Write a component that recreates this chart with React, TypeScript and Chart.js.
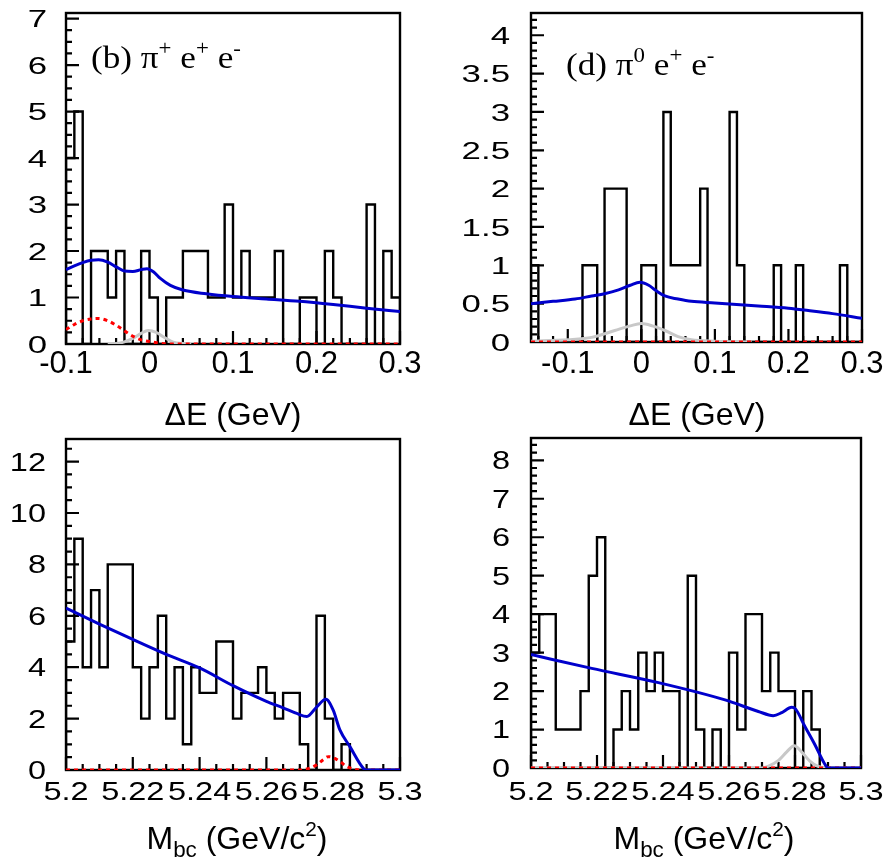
import React, { useEffect, useRef } from "react";
import { Chart, registerables } from "chart.js";

Chart.register(...registerables);

type Pt = [number, number];

// ===== Panel (b): ΔE, π+ e+ e- =====
const bBinLow = -0.1;
const bBinWidth = 0.01;
const bCounts = [4, 5, 0, 2, 2, 1, 2, 0, 0, 2, 1, 0, 1, 1, 2, 2, 2, 1, 1, 3, 1, 2, 1, 1, 1, 2, 0, 0, 1, 1, 0, 2, 1, 0, 0, 0, 3, 0, 2, 1];
const bTotalFit: Pt[] = [[-0.1, 1.6], [-0.09, 1.68], [-0.08, 1.75], [-0.07, 1.8], [-0.061, 1.81], [-0.05, 1.76], [-0.04, 1.66], [-0.03, 1.57], [-0.02, 1.56], [-0.01, 1.6], [-0.003, 1.62], [0.005, 1.55], [0.013, 1.41], [0.025, 1.26], [0.04, 1.16], [0.068, 1.08], [0.1, 1.02], [0.14, 0.97], [0.18, 0.92], [0.22, 0.85], [0.26, 0.77], [0.3, 0.7]];
const bPeakingBkg: Pt[] = [[-0.1, 0.31], [-0.09, 0.42], [-0.08, 0.5], [-0.07, 0.54], [-0.061, 0.55], [-0.05, 0.5], [-0.037, 0.37], [-0.028, 0.26], [-0.019, 0.16], [-0.01, 0.09], [0.0045, 0.04], [0.015, 0.01], [0.03, 0], [0.3, 0]];
const bSignal: Pt[] = [[-0.05, 0], [-0.04, 0.01], [-0.031, 0.04], [-0.02, 0.12], [-0.01, 0.23], [-0.0015, 0.29], [0.008, 0.25], [0.018, 0.14], [0.0285, 0.04], [0.04, 0.01], [0.05, 0]];
const bXTicks = [-0.1, 0, 0.1, 0.2, 0.3];
const bXLabels = ["-0.1", "0", "0.1", "0.2", "0.3"];
const bYTicks = [0, 1, 2, 3, 4, 5, 6, 7];
const bYLabels = ["0", "1", "2", "3", "4", "5", "6", "7"];

// ===== Panel (d): ΔE, π0 e+ e- =====
const dBinLow = -0.15;
const dBinWidth = 0.01;
const dCounts = [1, 0, 0, 0, 0, 0, 0, 1, 1, 0, 2, 2, 2, 0, 0, 1, 1, 0, 3, 1, 1, 1, 1, 2, 0, 0, 0, 3, 1, 0, 0, 0, 0, 1, 0, 0, 1, 0, 0, 0, 0, 0, 1, 0, 0];
const dTotalFit: Pt[] = [[-0.15, 0.5], [-0.12, 0.53], [-0.09, 0.56], [-0.0675, 0.6], [-0.05, 0.63], [-0.031, 0.68], [-0.015, 0.74], [-0.002, 0.78], [0.01, 0.74], [0.02, 0.67], [0.032, 0.6], [0.05, 0.56], [0.068, 0.53], [0.1, 0.51], [0.159, 0.47], [0.2, 0.44], [0.227, 0.41], [0.26, 0.37], [0.3, 0.31]];
const dPeakingBkg: Pt[] = [[-0.15, 0], [0.3, 0]];
const dSignal: Pt[] = [[-0.15, 0.01], [-0.1, 0.03], [-0.0675, 0.06], [-0.036, 0.15], [-0.015, 0.21], [0, 0.24], [0.015, 0.21], [0.032, 0.15], [0.05, 0.07], [0.068, 0.03], [0.1, 0.01], [0.15, 0]];
const dXTicks = [-0.1, 0, 0.1, 0.2, 0.3];
const dXLabels = ["-0.1", "0", "0.1", "0.2", "0.3"];
const dYTicks = [0, 0.5, 1, 1.5, 2, 2.5, 3, 3.5, 4];
const dYLabels = ["0", "0.5", "1", "1.5", "2", "2.5", "3", "3.5", "4"];

// ===== Mbc, π+ e+ e- =====
const cBinLow = 5.2;
const cBinWidth = 0.0025;
const cCounts = [5, 9, 4, 7, 4, 8, 8, 8, 4, 2, 4, 6, 2, 4, 1, 4, 3, 3, 5, 5, 2, 3, 3, 4, 3, 2, 3, 3, 1, 0, 6, 2, 0, 1, 0, 0, 0, 0, 0, 0];
const cTotalFit: Pt[] = [[5.2, 6.3], [5.21, 5.68], [5.22, 5.08], [5.23, 4.5], [5.24, 3.97], [5.25, 3.28], [5.26, 2.67], [5.265, 2.42], [5.2691, 2.2], [5.2721, 2.08], [5.2751, 2.46], [5.2778, 2.75], [5.28, 2.33], [5.282, 1.56], [5.285, 0.91], [5.289, 0.07], [5.29, 0], [5.3, 0]];
const cPeakingBkg: Pt[] = [[5.2, 0], [5.27, 0], [5.2725, 0.05], [5.275, 0.2], [5.277, 0.4], [5.2785, 0.52], [5.28, 0.48], [5.282, 0.33], [5.284, 0.14], [5.286, 0.04], [5.288, 0], [5.3, 0]];
const cSignal: Pt[] = [];
const mbcXTicks = [5.2, 5.22, 5.24, 5.26, 5.28, 5.3];
const mbcXLabels = ["5.2", "5.22", "5.24", "5.26", "5.28", "5.3"];
const cYTicks = [0, 2, 4, 6, 8, 10, 12];
const cYLabels = ["0", "2", "4", "6", "8", "10", "12"];

// ===== Mbc, π0 e+ e- =====
const eBinLow = 5.2;
const eBinWidth = 0.0025;
const eCounts = [3, 4, 4, 1, 1, 1, 2, 5, 6, 0, 1, 2, 1, 3, 2, 3, 2, 2, 0, 5, 1, 0, 1, 0, 3, 1, 4, 4, 2, 3, 2, 2, 0, 2, 1, 0, 0, 0, 0, 0];
const eTotalFit: Pt[] = [[5.2, 2.95], [5.2184, 2.59], [5.2386, 2.22], [5.2588, 1.77], [5.2689, 1.47], [5.2734, 1.36], [5.276, 1.44], [5.279, 1.58], [5.2802, 1.53], [5.283, 1.08], [5.286, 0.61], [5.2891, 0.09], [5.29, 0], [5.3, 0]];
const ePeakingBkg: Pt[] = [[5.2, 0], [5.3, 0]];
const eSignal: Pt[] = [[5.2, 0], [5.27, 0], [5.272, 0.05], [5.275, 0.2], [5.2775, 0.42], [5.2798, 0.58], [5.282, 0.42], [5.2845, 0.18], [5.287, 0.04], [5.29, 0], [5.3, 0]];
const eYTicks = [0, 1, 2, 3, 4, 5, 6, 7, 8];
const eYLabels = ["0", "1", "2", "3", "4", "5", "6", "7", "8"];

const SANS = '"Liberation Sans", Arial, Helvetica, sans-serif';
const SERIF = '"Liberation Serif", "Times New Roman", serif';

interface PanelSpec {
  left: number; top: number; width: number; height: number;
  area: { left: number; top: number; right: number; bottom: number };
  xMin: number; xMax: number; yMax: number;
  xTicks: number[]; xLabels: string[]; xMinor: number;
  yTicks: number[]; yLabels: string[]; yMinor: number;
  binLow: number; binWidth: number; counts: number[];
  total: Pt[]; peaking: Pt[]; signal: Pt[];
  xLabelFont: number; xLabelScale: number; xLabelOffset: number;
  yLabelFont: number; yLabelScale: number; yLabelGap: number;
}

const panels: PanelSpec[] = [
  {
    left: 0, top: 0, width: 447, height: 430,
    area: { left: 66, top: 13, right: 400, bottom: 344 },
    xMin: -0.1, xMax: 0.3, yMax: 7.12,
    xTicks: bXTicks, xLabels: bXLabels, xMinor: 0.02,
    yTicks: bYTicks, yLabels: bYLabels, yMinor: 0.25,
    binLow: bBinLow, binWidth: bBinWidth, counts: bCounts,
    total: bTotalFit, peaking: bPeakingBkg, signal: bSignal,
    xLabelFont: 31, xLabelScale: 1.0, xLabelOffset: 29,
    yLabelFont: 24, yLabelScale: 1.45, yLabelGap: 19,
  },
  {
    left: 447, top: 0, width: 447, height: 430,
    area: { left: 84, top: 13, right: 415, bottom: 342 },
    xMin: -0.15, xMax: 0.3, yMax: 4.29,
    xTicks: dXTicks, xLabels: dXLabels, xMinor: 0.02,
    yTicks: dYTicks, yLabels: dYLabels, yMinor: 0.1,
    binLow: dBinLow, binWidth: dBinWidth, counts: dCounts,
    total: dTotalFit, peaking: dPeakingBkg, signal: dSignal,
    xLabelFont: 31, xLabelScale: 1.0, xLabelOffset: 31,
    yLabelFont: 24, yLabelScale: 1.45, yLabelGap: 21,
  },
  {
    left: 0, top: 430, width: 447, height: 431,
    area: { left: 66, top: 9, right: 400, bottom: 340 },
    xMin: 5.2, xMax: 5.3, yMax: 12.88,
    xTicks: mbcXTicks, xLabels: mbcXLabels, xMinor: 0.005,
    yTicks: cYTicks, yLabels: cYLabels, yMinor: 0.5,
    binLow: cBinLow, binWidth: cBinWidth, counts: cCounts,
    total: cTotalFit, peaking: cPeakingBkg, signal: cSignal,
    xLabelFont: 25, xLabelScale: 1.3, xLabelOffset: 30,
    yLabelFont: 25, yLabelScale: 1.3, yLabelGap: 20,
  },
  {
    left: 447, top: 430, width: 447, height: 431,
    area: { left: 84, top: 8, right: 414, bottom: 338 },
    xMin: 5.2, xMax: 5.3, yMax: 8.58,
    xTicks: mbcXTicks, xLabels: mbcXLabels, xMinor: 0.005,
    yTicks: eYTicks, yLabels: eYLabels, yMinor: 0.2,
    binLow: eBinLow, binWidth: eBinWidth, counts: eCounts,
    total: eTotalFit, peaking: ePeakingBkg, signal: eSignal,
    xLabelFont: 25, xLabelScale: 1.3, xLabelOffset: 32,
    yLabelFont: 25, yLabelScale: 1.3, yLabelGap: 21,
  },
];

function histPoints(low: number, width: number, counts: number[]) {
  const pts: { x: number; y: number }[] = [{ x: low, y: 0 }];
  counts.forEach((c, i) => pts.push({ x: low + i * width, y: c }));
  pts.push({ x: low + counts.length * width, y: 0 });
  return pts;
}

const toXY = (arr: Pt[]) => arr.map(([x, y]) => ({ x, y }));

function isMajor(v: number, ticks: number[]) {
  return ticks.some((t) => Math.abs(t - v) < 1e-7);
}

function makeDecor(s: PanelSpec) {
  return {
    id: "decor",
    beforeDatasetsDraw(chart: any) {
      const { ctx, chartArea: a } = chart;
      const xs = chart.scales.x;
      const ys = chart.scales.y;
      ctx.save();
      ctx.strokeStyle = "#000";
      ctx.lineWidth = 2.2;
      ctx.beginPath();
      const kx0 = Math.ceil(s.xMin / s.xMinor - 1e-6);
      const kx1 = Math.floor(s.xMax / s.xMinor + 1e-6);
      for (let k = kx0; k <= kx1; k++) {
        const v = k * s.xMinor;
        const len = isMajor(v, s.xTicks) ? 13 : 6;
        const px = xs.getPixelForValue(v);
        ctx.moveTo(px, a.bottom);
        ctx.lineTo(px, a.bottom - len);
      }
      const ky1 = Math.floor(s.yMax / s.yMinor + 1e-6);
      for (let k = 0; k <= ky1; k++) {
        const v = k * s.yMinor;
        const len = isMajor(v, s.yTicks) ? 13 : 6;
        const py = ys.getPixelForValue(v);
        ctx.moveTo(a.left, py);
        ctx.lineTo(a.left + len, py);
      }
      ctx.stroke();
      ctx.lineWidth = 2.4;
      ctx.strokeRect(a.left, a.top, a.right - a.left, a.bottom - a.top);

      ctx.fillStyle = "#000";
      ctx.textBaseline = "alphabetic";
      ctx.font = `${s.xLabelFont}px ${SANS}`;
      ctx.textAlign = "center";
      s.xTicks.forEach((v, i) => {
        const px = xs.getPixelForValue(v);
        ctx.save();
        ctx.translate(px, a.bottom + s.xLabelOffset);
        ctx.scale(s.xLabelScale, 1);
        ctx.fillText(s.xLabels[i], 0, 0);
        ctx.restore();
      });
      ctx.font = `${s.yLabelFont}px ${SANS}`;
      ctx.textAlign = "right";
      s.yTicks.forEach((v, i) => {
        const py = ys.getPixelForValue(v);
        ctx.save();
        ctx.translate(a.left - s.yLabelGap, py + 0.358 * s.yLabelFont);
        ctx.scale(s.yLabelScale, 1);
        ctx.fillText(s.yLabels[i], 0, 0);
        ctx.restore();
      });
      ctx.restore();
    },
  };
}

function Panel({ s }: { s: PanelSpec }) {
  const ref = useRef<HTMLCanvasElement | null>(null);
  useEffect(() => {
    const canvas = ref.current;
    if (!canvas) return;
    const datasets: any[] = [
      {
        data: toXY(s.total), borderColor: "#0000cc", borderWidth: 3,
        cubicInterpolationMode: "monotone", pointRadius: 0, order: 0, fill: false,
      },
      {
        data: toXY(s.peaking), borderColor: "#ff0000", borderWidth: 3, borderDash: [4, 4],
        cubicInterpolationMode: "monotone", pointRadius: 0, order: 1, fill: false,
      },
    ];
    if (s.signal.length) {
      datasets.push({
        data: toXY(s.signal), borderColor: "#c8c8c8", borderWidth: 3,
        cubicInterpolationMode: "monotone", pointRadius: 0, order: 2, fill: false,
      });
    }
    datasets.push({
      data: histPoints(s.binLow, s.binWidth, s.counts), borderColor: "#000", borderWidth: 2.4,
      stepped: "before", pointRadius: 0, order: 3, fill: false,
    });
    const hidden = {
      display: true,
      ticks: { display: false },
      grid: { display: false, drawTicks: false },
      border: { display: false },
    };
    const chart = new Chart(canvas, {
      type: "line",
      data: { datasets },
      options: {
        animation: false,
        responsive: false,
        devicePixelRatio: 1,
        events: [],
        layout: {
          padding: {
            left: s.area.left, top: s.area.top,
            right: s.width - s.area.right, bottom: s.height - s.area.bottom,
          },
        },
        plugins: { legend: { display: false }, tooltip: { enabled: false }, title: { display: false } },
        scales: {
          x: { type: "linear", min: s.xMin, max: s.xMax, ...hidden },
          y: { type: "linear", min: 0, max: s.yMax, ...hidden },
        },
      } as any,
      plugins: [makeDecor(s)],
    });
    return () => chart.destroy();
  }, [s]);
  return (
    <canvas
      ref={ref}
      width={s.width}
      height={s.height}
      style={{ position: "absolute", left: s.left, top: s.top, width: s.width, height: s.height }}
    />
  );
}

function Txt({ x, baseline, size, family, asc, center, sx, children }: any) {
  const tf = center ? `translateX(-50%) scaleX(${sx || 1})` : `scaleX(${sx || 1})`;
  return (
    <div
      style={{
        position: "absolute", left: x, top: baseline - asc * size, fontSize: size, lineHeight: 1,
        fontFamily: family, whiteSpace: "nowrap", color: "#000",
        transform: tf, transformOrigin: center ? "50% 50%" : "0 50%",
      }}
    >
      {children}
    </div>
  );
}

const Sup = ({ children }: any) => (
  <span style={{ fontSize: "0.65em", position: "relative", top: "-0.62em", lineHeight: 1 }}>{children}</span>
);
const Sub = ({ children }: any) => (
  <span style={{ fontSize: "0.7em", position: "relative", top: "0.35em", lineHeight: 1 }}>{children}</span>
);

export default function App() {
  return (
    <div style={{ position: "absolute", left: 0, top: 0, width: 894, height: 861, background: "#fff", overflow: "hidden" }}>
      {panels.map((p, i) => (
        <Panel key={i} s={p} />
      ))}
      <Txt x={91} baseline={68} size={32} family={SERIF} asc={0.8375} sx={1.1}>
        (b) π<Sup>+</Sup> e<Sup>+</Sup> e<Sup>-</Sup>
      </Txt>
      <Txt x={566} baseline={75} size={32} family={SERIF} asc={0.8375} sx={1.1}>
        (d) π<Sup>0</Sup> e<Sup>+</Sup> e<Sup>-</Sup>
      </Txt>
      <Txt x={233} baseline={425} size={32} family={SANS} asc={0.8465} center>
        ΔE (GeV)
      </Txt>
      <Txt x={697} baseline={425} size={32} family={SANS} asc={0.8465} center>
        ΔE (GeV)
      </Txt>
      <Txt x={237} baseline={849} size={32} family={SANS} asc={0.8465} center>
        M<Sub>bc</Sub> (GeV/c<Sup>2</Sup>)
      </Txt>
      <Txt x={704} baseline={849} size={32} family={SANS} asc={0.8465} center>
        M<Sub>bc</Sub> (GeV/c<Sup>2</Sup>)
      </Txt>
    </div>
  );
}
